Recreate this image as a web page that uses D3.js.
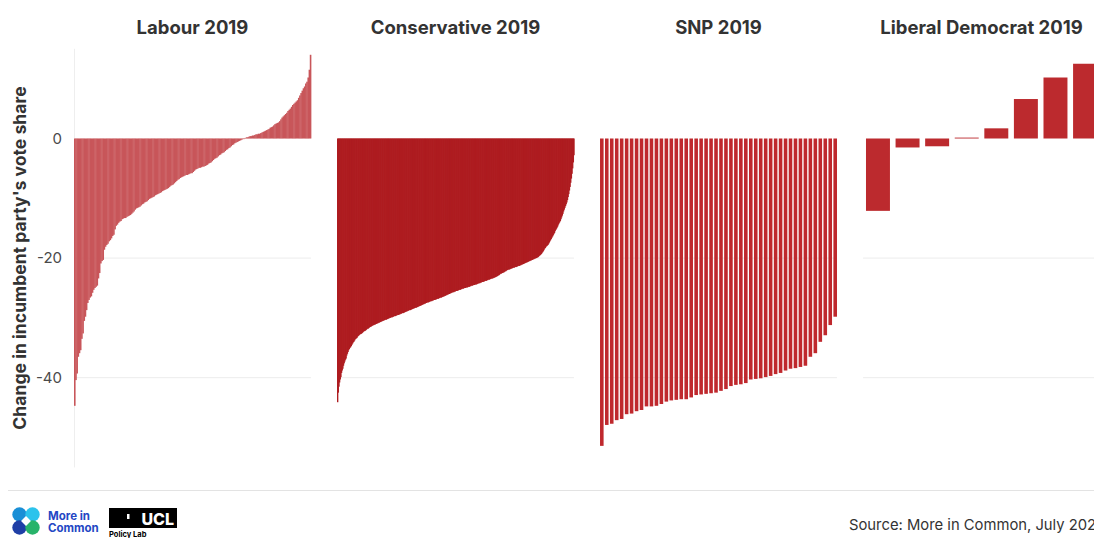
<!DOCTYPE html>
<html>
<head>
<meta charset="utf-8">
<script src="https://cdn.jsdelivr.net/npm/d3@7"></script>
<style>
  html, body { margin: 0; padding: 0; background: #ffffff; }
  svg { display: block; }
</style>
</head>
<body>
<svg id="chart" width="1094" height="538"></svg>
<script>
// ---------------- DATA ----------------
const panelTitles = ["Labour 2019", "Conservative 2019", "SNP 2019", "Liberal Democrat 2019"];
const yTickValues = [0, -20, -40];
const yTickLabels = ["0", "-20", "-40"];
const yAxisTitle = "Change in incumbent party's vote share";
const sourceText = "Source: More in Common, July 2024";

const labourValues = [
-44.7,-40.4,-39.3,-36.5,-35.9,-35.4,-33.5,-32.6,-30.5,-29.8,
-28.7,-27.5,-27.0,-26.6,-26.4,-25.8,-25.3,-25.0,-24.8,-24.6,
-23.4,-22.5,-20.9,-20.5,-20.3,-18.6,-18.1,-17.8,-17.6,-17.2,
-17.0,-16.7,-16.3,-16.1,-15.2,-14.6,-14.4,-14.1,-13.9,-13.8,
-13.5,-13.4,-13.3,-13.3,-13.1,-13.0,-12.9,-12.8,-12.6,-12.4,
-12.2,-11.9,-11.7,-11.6,-11.5,-11.4,-11.2,-11.0,-10.9,-10.7,
-10.6,-10.5,-10.3,-10.1,-10.0,-9.9,-9.8,-9.7,-9.5,-9.4,
-9.3,-9.2,-9.1,-9.0,-8.8,-8.7,-8.6,-8.5,-8.4,-8.3,
-8.1,-7.9,-7.8,-7.7,-7.5,-7.3,-7.1,-6.9,-6.8,-6.6,
-6.5,-6.4,-6.3,-6.2,-6.1,-6.1,-6.0,-5.9,-5.8,-5.8,
-5.6,-5.4,-5.2,-5.1,-5.0,-4.9,-4.9,-4.8,-4.7,-4.7,
-4.6,-4.5,-4.4,-4.2,-4.1,-4.0,-3.8,-3.6,-3.4,-3.3,
-3.2,-3.0,-2.8,-2.7,-2.5,-2.4,-2.3,-2.1,-1.9,-1.8,
-1.6,-1.5,-1.3,-1.1,-1.0,-0.8,-0.7,-0.6,-0.5,-0.4,
-0.3,-0.2,-0.1,-0.1,0.1,0.2,0.2,0.3,0.4,0.4,
0.5,0.5,0.6,0.7,0.7,0.8,0.8,0.9,1.0,1.1,
1.2,1.3,1.4,1.5,1.6,1.8,1.9,2.0,2.2,2.4,
2.5,2.6,2.7,2.9,3.2,3.5,3.7,3.9,4.1,4.3,
4.6,4.8,5.0,5.3,5.6,5.8,6.0,6.2,6.4,6.8,
7.2,7.6,8.0,8.4,8.7,9.2,9.5,10.2,11.5,14.0
];

const conservativeValues = [
-44.1,-42.5,-41.5,-40.8,-40.3,-39.9,-39.2,-38.8,-38.5,-38.0,
-37.6,-37.3,-37.0,-36.8,-36.3,-36.0,-35.7,-35.4,-35.2,-35.0,
-34.9,-34.7,-34.5,-34.3,-34.1,-34.0,-33.8,-33.6,-33.5,-33.4,
-33.3,-33.1,-33.0,-32.9,-32.8,-32.7,-32.7,-32.6,-32.5,-32.4,
-32.3,-32.2,-32.2,-32.1,-32.0,-31.9,-31.8,-31.8,-31.7,-31.6,
-31.5,-31.5,-31.4,-31.3,-31.3,-31.2,-31.2,-31.1,-31.1,-31.0,
-31.0,-30.9,-30.9,-30.8,-30.8,-30.7,-30.7,-30.6,-30.6,-30.5,
-30.5,-30.4,-30.4,-30.3,-30.3,-30.3,-30.2,-30.2,-30.1,-30.1,
-30.0,-30.0,-29.9,-29.9,-29.9,-29.8,-29.8,-29.7,-29.7,-29.7,
-29.6,-29.6,-29.5,-29.5,-29.5,-29.4,-29.4,-29.3,-29.3,-29.2,
-29.2,-29.2,-29.1,-29.1,-29.0,-29.0,-28.9,-28.9,-28.8,-28.8,
-28.7,-28.7,-28.7,-28.6,-28.6,-28.5,-28.5,-28.4,-28.4,-28.3,
-28.3,-28.3,-28.2,-28.2,-28.1,-28.1,-28.0,-28.0,-27.9,-27.9,
-27.8,-27.8,-27.7,-27.7,-27.6,-27.6,-27.5,-27.5,-27.4,-27.4,
-27.4,-27.3,-27.3,-27.2,-27.2,-27.2,-27.1,-27.1,-27.0,-27.0,
-27.0,-26.9,-26.9,-26.8,-26.8,-26.8,-26.7,-26.7,-26.6,-26.6,
-26.6,-26.5,-26.5,-26.4,-26.4,-26.3,-26.3,-26.2,-26.2,-26.1,
-26.1,-26.0,-26.0,-25.9,-25.9,-25.8,-25.8,-25.7,-25.7,-25.7,
-25.6,-25.6,-25.5,-25.5,-25.5,-25.4,-25.4,-25.3,-25.3,-25.3,
-25.2,-25.2,-25.1,-25.1,-25.1,-25.0,-25.0,-25.0,-24.9,-24.9,
-24.9,-24.8,-24.8,-24.8,-24.7,-24.7,-24.6,-24.6,-24.6,-24.5,
-24.5,-24.5,-24.4,-24.4,-24.4,-24.3,-24.3,-24.2,-24.2,-24.2,
-24.1,-24.1,-24.0,-24.0,-24.0,-23.9,-23.9,-23.8,-23.8,-23.8,
-23.7,-23.7,-23.6,-23.6,-23.6,-23.5,-23.5,-23.4,-23.4,-23.4,
-23.3,-23.3,-23.2,-23.2,-23.1,-23.1,-23.0,-22.9,-22.9,-22.8,
-22.7,-22.6,-22.6,-22.5,-22.5,-22.4,-22.4,-22.3,-22.2,-22.2,
-22.1,-22.0,-22.0,-21.9,-21.9,-21.9,-21.8,-21.8,-21.7,-21.7,
-21.6,-21.6,-21.6,-21.5,-21.5,-21.5,-21.4,-21.4,-21.3,-21.3,
-21.3,-21.2,-21.2,-21.1,-21.1,-21.0,-21.0,-20.9,-20.9,-20.8,
-20.8,-20.7,-20.7,-20.6,-20.6,-20.5,-20.5,-20.4,-20.4,-20.3,
-20.3,-20.2,-20.2,-20.1,-20.1,-20.0,-20.0,-19.9,-19.9,-19.8,
-19.7,-19.6,-19.5,-19.4,-19.3,-19.1,-19.0,-18.8,-18.6,-18.4,
-18.3,-18.1,-18.0,-17.9,-17.8,-17.6,-17.4,-17.2,-17.0,-16.8,
-16.6,-16.4,-16.2,-16.0,-15.8,-15.5,-15.3,-15.1,-14.9,-14.7,
-14.4,-14.2,-14.0,-13.8,-13.5,-13.2,-12.9,-12.6,-12.2,-11.9,
-11.6,-11.3,-11.0,-10.7,-10.3,-9.8,-9.3,-8.7,-8.1,-7.4,
-6.7,-5.9,-5.0,-4.0,-2.8
];

const snpValues = [
-51.4,-47.9,-47.7,-47.1,-46.9,-46.1,-46.0,-45.6,-45.4,-44.8,
-44.8,-44.7,-44.4,-44.0,-43.8,-43.7,-43.6,-43.6,-43.3,-42.9,
-42.8,-42.7,-42.6,-42.5,-42.2,-41.9,-41.4,-41.2,-41.1,-40.9,
-40.3,-40.2,-40.1,-39.9,-39.7,-39.4,-39.2,-38.8,-38.5,-38.4,
-38.2,-38.0,-36.5,-35.9,-34.0,-32.9,-31.2,-29.8
];

const libDemValues = [-12.1, -1.5, -1.3, 0.15, 1.7, 6.6, 10.2, 12.5];

const panelData = [labourValues, conservativeValues, snpValues, libDemValues];

// ---------------- LAYOUT / STYLE ----------------
const FONT = "Inter, 'Open Sans', Lato, sans-serif";
const panelStyles = [
  { fill: "#c8565a", padInner: 0, padOuter: 0, extra: 0.4 },
  { fill: "#ae1c20", padInner: 0, padOuter: 0, extra: 0.7 },
  { fill: "#bf282d", padInner: 0.28, padOuter: 0, extra: 0 },
  { fill: "#bc2a2e", padInner: 0.19, padOuter: 0.1, extra: 0 }
];

const svg = d3.select("#chart");

const y = d3.scaleLinear().domain([-55, 15]).range([467.4, 48.8]);

const panelX = d3.scaleBand()
  .domain(panelTitles)
  .range([74, 1100])
  .paddingInner(0.099)
  .paddingOuter(0);

// gridlines
panelTitles.forEach((t) => {
  const x0 = panelX(t), w = panelX.bandwidth();
  svg.append("g").selectAll("line")
    .data(yTickValues.filter(v => v !== 0))
    .join("line")
    .attr("x1", x0).attr("x2", x0 + w)
    .attr("y1", d => y(d)).attr("y2", d => y(d))
    .attr("stroke", "#ececec").attr("stroke-width", 1);
});

// left axis vertical rule (Labour panel)
svg.append("line")
  .attr("x1", panelX(panelTitles[0]) + 0.5).attr("x2", panelX(panelTitles[0]) + 0.5)
  .attr("y1", y(15)).attr("y2", y(-55))
  .attr("stroke", "#eeeeee").attr("stroke-width", 1);

// bars
panelTitles.forEach((t, pi) => {
  const vals = panelData[pi];
  const st = panelStyles[pi];
  const x0 = panelX(t), w = panelX.bandwidth();
  const xb = d3.scaleBand()
    .domain(d3.range(vals.length))
    .range([x0, x0 + w])
    .paddingInner(st.padInner)
    .paddingOuter(st.padOuter);
  svg.append("g").selectAll("rect")
    .data(vals)
    .join("rect")
    .attr("x", (d, i) => xb(i))
    .attr("width", Math.min(xb.bandwidth() + st.extra, x0 + w - xb(0)))
    .attr("y", d => y(Math.max(0, d)))
    .attr("height", d => Math.max(0.6, Math.abs(y(d) - y(0))))
    .attr("fill", st.fill);

  // panel title
  svg.append("text")
    .attr("x", x0 + w / 2)
    .attr("y", 34)
    .attr("text-anchor", "middle")
    .attr("font-family", FONT)
    .attr("font-weight", 700)
    .attr("font-size", 18.5)
    .attr("fill", "#333333")
    .text(t);
});

// y-axis tick labels
const yAxis = d3.axisLeft(y).tickValues(yTickValues)
  .tickFormat((d, i) => yTickLabels[i]).tickSize(0).tickPadding(0);
const gy = svg.append("g").attr("transform", "translate(62,0)").call(yAxis);
gy.select(".domain").remove();
gy.selectAll("text")
  .attr("font-family", FONT)
  .attr("font-size", 15)
  .attr("fill", "#4a4a4a");

// y-axis title
svg.append("text")
  .attr("transform", "translate(26,258) rotate(-90)")
  .attr("text-anchor", "middle")
  .attr("font-family", FONT)
  .attr("font-weight", 700)
  .attr("font-size", 17.6)
  .attr("fill", "#333333")
  .text(yAxisTitle);

// footer rule
svg.append("line")
  .attr("x1", 8).attr("x2", 1094)
  .attr("y1", 490.5).attr("y2", 490.5)
  .attr("stroke", "#e3e3e3").attr("stroke-width", 1);

// More in Common logo
const logo = svg.append("g").attr("transform", "translate(26,521)");
[
  { dx: -6.5, dy: -6.5, c: "#1a8fd6" },
  { dx: 6.5, dy: -6.5, c: "#2cc3ec" },
  { dx: -6.5, dy: 6.5, c: "#1f3fa6" },
  { dx: 6.5, dy: 6.5, c: "#28b36a" }
].forEach(o => {
  logo.append("circle").attr("cx", o.dx).attr("cy", o.dy).attr("r", 7.2).attr("fill", o.c);
});
logo.append("rect").attr("x", -3.5).attr("y", -3.5).attr("width", 7).attr("height", 7)
  .attr("transform", "rotate(45)").attr("fill", "#ffffff");
svg.append("text").attr("x", 48).attr("y", 519.5)
  .attr("font-family", FONT).attr("font-weight", 700).attr("font-size", 11.5)
  .attr("fill", "#2447c4").text("More in");
svg.append("text").attr("x", 48).attr("y", 532)
  .attr("font-family", FONT).attr("font-weight", 700).attr("font-size", 11.5)
  .attr("fill", "#2447c4").text("Common");

// UCL Policy Lab logo
svg.append("rect").attr("x", 109).attr("y", 508).attr("width", 68).attr("height", 20).attr("fill", "#000000");
svg.append("text").attr("x", 174).attr("y", 525)
  .attr("text-anchor", "end")
  .attr("font-family", FONT).attr("font-weight", 800).attr("font-size", 16)
  .attr("fill", "#ffffff").text("UCL");
svg.append("rect").attr("x", 127).attr("y", 514).attr("width", 2.5).attr("height", 5).attr("fill", "#ffffff");
svg.append("text").attr("x", 109).attr("y", 537)
  .attr("font-family", FONT).attr("font-weight", 700).attr("font-size", 7.5)
  .attr("fill", "#000000").text("Policy Lab");

// source
svg.append("text").attr("x", 849).attr("y", 530)
  .attr("font-family", FONT).attr("font-size", 14.8)
  .attr("fill", "#333333").text(sourceText);
</script>
</body>
</html>
